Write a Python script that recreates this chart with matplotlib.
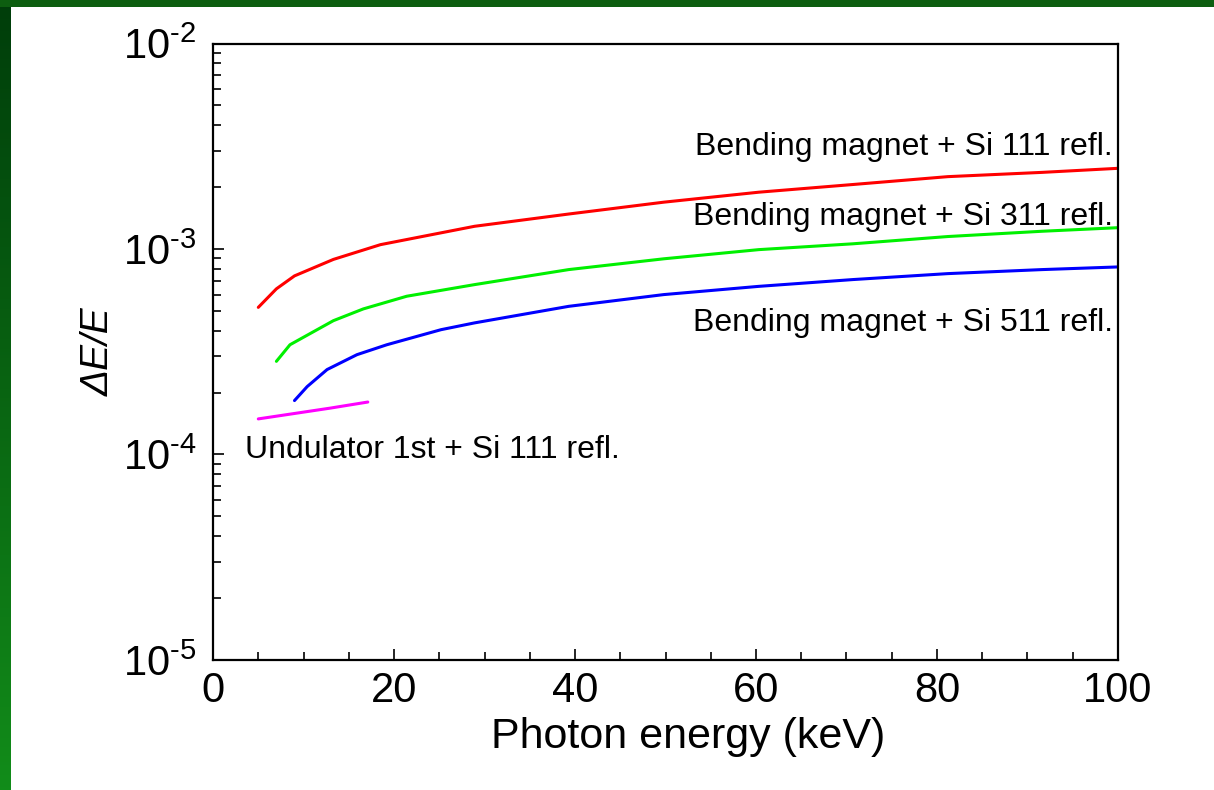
import numpy as np
import matplotlib
matplotlib.use("Agg")
import matplotlib.pyplot as plt
from matplotlib.ticker import FixedLocator, NullFormatter, LogLocator

plt.rcParams["font.family"] = ["Liberation Sans", "DejaVu Sans"]
plt.rcParams["mathtext.fontset"] = "custom"
plt.rcParams["mathtext.rm"] = "Liberation Sans"
plt.rcParams["mathtext.it"] = "Liberation Sans:italic"

# energies (keV) and dE/E
e_si111 = [5, 7, 9, 13.3, 18.5, 28.9, 39.3, 49.8, 60.3, 70.7, 81.2, 91.6, 100]
de_si111 = [5.2e-4, 6.4e-4, 7.4e-4, 8.9e-4, 1.05e-3, 1.29e-3, 1.48e-3, 1.69e-3,
            1.89e-3, 2.06e-3, 2.25e-3, 2.36e-3, 2.47e-3]

e_si311 = [7, 8.5, 13.3, 16.6, 21.4, 28.9, 39.3, 49.8, 60.3, 70.7, 81.2, 91.6, 100]
de_si311 = [2.84e-4, 3.42e-4, 4.48e-4, 5.11e-4, 5.89e-4, 6.71e-4, 7.94e-4, 8.96e-4,
            9.93e-4, 1.06e-3, 1.15e-3, 1.22e-3, 1.27e-3]

e_si511 = [9, 10.4, 12.6, 15.9, 19.2, 25.2, 28.9, 39.3, 49.8, 60.3, 70.7, 81.2, 91.6, 100]
de_si511 = [1.83e-4, 2.14e-4, 2.59e-4, 3.06e-4, 3.42e-4, 4.05e-4, 4.37e-4, 5.26e-4,
            6.0e-4, 6.58e-4, 7.1e-4, 7.59e-4, 7.94e-4, 8.18e-4]

e_und = [5, 12.9, 17.1]
de_und = [1.49e-4, 1.68e-4, 1.80e-4]

x_ticks = [0, 20, 40, 60, 80, 100]
y_ticks = [1e-5, 1e-4, 1e-3, 1e-2]
y_ticklabels = [r"$10^{\text{-5}}$", r"$10^{\text{-4}}$", r"$10^{\text{-3}}$", r"$10^{\text{-2}}$"]

fig = plt.figure(figsize=(12.14, 7.9), dpi=100)

# slide frame: green bands on top and left
bg = fig.add_axes([0, 0, 1, 1], zorder=-10)
bg.set_xlim(0, 1214)
bg.set_ylim(790, 0)
bg.axis("off")
grad = np.linspace(0, 1, 256).reshape(-1, 1)
top_col = np.array([0.0, 0.24, 0.04])
bot_col = np.array([0.07, 0.55, 0.10])
img = (top_col + grad * (bot_col - top_col)).reshape(256, 1, 3)
bg.imshow(img, extent=[0, 11, 790, 0], aspect="auto")
bg.fill_between([0, 1214], 0, 7, color="#0d5e10", lw=0)

ax = fig.add_axes([0.1755, 0.1646, 0.9209 - 0.1755, 0.9449 - 0.1646])
kw = dict(lw=2.2, solid_joinstyle="round", solid_capstyle="round")
ax.plot(e_si111, de_si111, color="#ff0000", **kw)
ax.plot(e_si311, de_si311, color="#00f000", **kw)
ax.plot(e_si511, de_si511, color="#0000ff", **kw)
ax.plot(e_und, de_und, color="#ff00ff", **kw)

ax.set_yscale("log")
ax.set_xlim(0, 100)
ax.set_ylim(1e-5, 1e-2)

ax.set_xticks(x_ticks)
ax.set_xticklabels([str(v) for v in x_ticks])
ax.xaxis.set_minor_locator(FixedLocator(np.arange(5, 100, 5)))
ax.set_yticks(y_ticks)
ax.set_yticklabels(y_ticklabels)
ax.yaxis.set_minor_locator(LogLocator(base=10, subs=np.arange(2, 10)))
ax.yaxis.set_minor_formatter(NullFormatter())

ax.tick_params(which="both", direction="in", top=False, right=False, width=1.2)
ax.tick_params(which="major", length=8, labelsize=30)
ax.tick_params(which="minor", length=6)
ax.tick_params(axis="x", which="major", pad=8)
ax.tick_params(axis="y", which="major", pad=12)
for s in ax.spines.values():
    s.set_linewidth(1.6)

ax.set_xlabel("Photon energy (keV)", fontsize=31)
ax.xaxis.set_label_coords(0.525, -0.092)
ax.set_ylabel("\u0394E/E", fontsize=28, fontstyle="italic", labelpad=4)

ax.text(99.4, 2.88e-3, "Bending magnet + Si 111 refl.", fontsize=23, ha="right", va="baseline")
ax.text(99.4, 1.31e-3, "Bending magnet + Si 311 refl.", fontsize=23, ha="right", va="baseline")
ax.text(99.4, 3.97e-4, "Bending magnet + Si 511 refl.", fontsize=23, ha="right", va="baseline")
ax.text(3.5, 9.6e-5, "Undulator 1st + Si 111 refl.", fontsize=23, ha="left", va="baseline")

fig.savefig("out.png", dpi=100)
